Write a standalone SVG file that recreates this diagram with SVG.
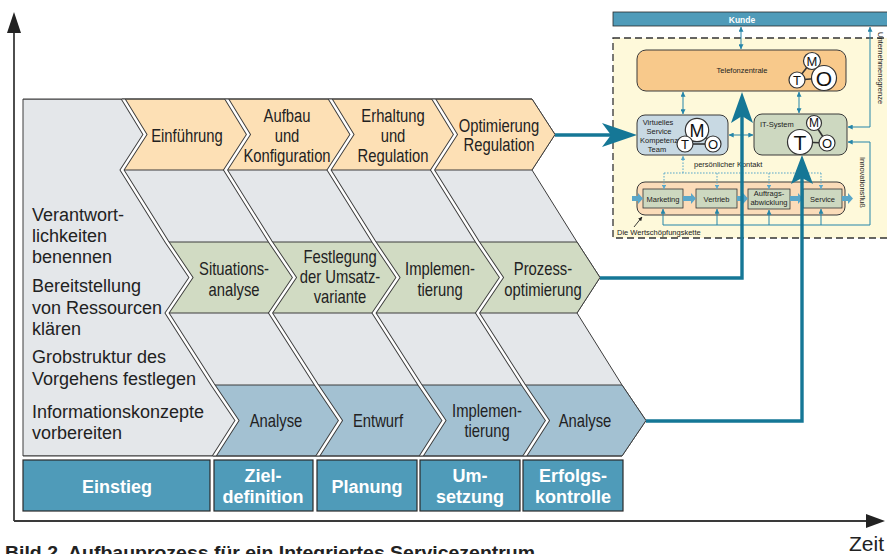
<svg xmlns="http://www.w3.org/2000/svg" width="887" height="554" viewBox="0 0 887 554">
<defs>
<style>
.bg{fill:#e4e7ea;stroke:#3c3c3c;stroke-width:1}
.rowA{fill:#fde0b5;stroke:#3c3c3c;stroke-width:1}
.rowB{fill:#d1dbc3;stroke:#3c3c3c;stroke-width:1}
.rowC{fill:#a3c1d2;stroke:#3c3c3c;stroke-width:1}
.sepO{fill:none;stroke:#3c3c3c;stroke-width:4.4}
.sepI{fill:none;stroke:#fff;stroke-width:2.5}
.lbl text{font-family:"Liberation Sans",Arial,sans-serif;font-size:18.5px;fill:#222;text-anchor:middle}
.side{font-family:"Liberation Sans",Arial,sans-serif;font-size:18px;fill:#222}
.phase rect{fill:#4f9bb9;stroke:#2a2a2a;stroke-width:1.2}
.phase text{font-family:"Liberation Sans",Arial,sans-serif;font-weight:bold;font-size:18px;fill:#fff;text-anchor:middle}
.axis{stroke:#3a3a3a;stroke-width:1.8;fill:none}
.flow{stroke:#157796;stroke-width:3.4;fill:none}
.flowhead{fill:#157796}
.thin{stroke:#2585a9;stroke-width:1;fill:none}
.dot{stroke:#5aa7c9;stroke-width:1;stroke-dasharray:1.6 1.4;fill:none}
.small{font-family:"Liberation Sans",Arial,sans-serif;font-size:7.5px;fill:#222}
.box{stroke:#3a3a3a;stroke-width:1}
.inner{fill:#cdd8c0;stroke:#333;stroke-width:0.8}
.blk{fill:#5aa7c9}
.mto circle{fill:#fff;stroke:#333;stroke-width:1.2}
.mto line{stroke:#333;stroke-width:1.6}
.mto text{font-family:"Liberation Sans",Arial,sans-serif;text-anchor:middle;fill:#111}
</style>
<marker id="ah" viewBox="0 0 8 8" refX="7.5" refY="4" markerWidth="5" markerHeight="5" orient="auto-start-reverse" markerUnits="userSpaceOnUse"><path d="M0,0 L8,4 L0,8 Z" fill="#2585a9"/></marker>
<marker id="ahd" viewBox="0 0 8 8" refX="7.5" refY="4" markerWidth="4.5" markerHeight="4.5" orient="auto-start-reverse" markerUnits="userSpaceOnUse"><path d="M0,0 L8,4 L0,8 Z" fill="#5aa7c9"/></marker>
<marker id="ahk" viewBox="0 0 8 8" refX="7.5" refY="4" markerWidth="4" markerHeight="4" orient="auto" markerUnits="userSpaceOnUse"><path d="M0,0 L8,4 L0,8 Z" fill="#222"/></marker>
<clipPath id="band"><rect x="0" y="99" width="887" height="357"/></clipPath>
</defs>

<rect width="887" height="554" fill="#fff"/>

<!-- axes -->
<g id="axes">
  <path class="axis" d="M14,521 V30"/>
  <polygon points="7,33 14,12 21,33" fill="#222"/>
  <path class="axis" d="M14,521 H868"/>
  <polygon points="866,514 885,521 866,528" fill="#222"/>
  <text x="849" y="551" font-family="'Liberation Sans',Arial,sans-serif" font-size="21" fill="#222">Zeit</text>
</g>

<!-- background field and the three chevron rows -->
<g id="field">
  <polygon class="bg" points="23,99 532,99 555,134.5 532,170 577,242 600,277.5 577,313 622,385 646,420.5 622,456 23,456"/>
  <polygon class="rowA" points="122,99 532,99 555,134.5 532,170 122,170 145,134.5"/>
  <polygon class="rowB" points="167,242 577,242 600,277.5 577,313 167,313 191,277.5"/>
  <polygon class="rowC" points="213,385 622,385 646,420.5 622,456 213,456 237,420.5"/>
</g>

<!-- column separators (white double line) -->
<g id="separators" clip-path="url(#band)">
  <g class="sepO">
    <polyline points="122,97 145,134.5 122,170 167,242 191,277.5 167,313 213,385 237,420.5 213,458"/>
    <polyline points="225.5,97 248.5,134.5 225.5,170 270.5,242 294.5,277.5 270.5,313 316.5,385 340.5,420.5 316.5,458"/>
    <polyline points="329,97 352,134.5 329,170 374,242 398,277.5 374,313 420,385 444,420.5 420,458"/>
    <polyline points="432.5,97 455.5,134.5 432.5,170 477.5,242 501.5,277.5 477.5,313 523.5,385 547.5,420.5 523.5,458"/>
  </g>
  <g class="sepI">
    <polyline points="122,97 145,134.5 122,170 167,242 191,277.5 167,313 213,385 237,420.5 213,458"/>
    <polyline points="225.5,97 248.5,134.5 225.5,170 270.5,242 294.5,277.5 270.5,313 316.5,385 340.5,420.5 316.5,458"/>
    <polyline points="329,97 352,134.5 329,170 374,242 398,277.5 374,313 420,385 444,420.5 420,458"/>
    <polyline points="432.5,97 455.5,134.5 432.5,170 477.5,242 501.5,277.5 477.5,313 523.5,385 547.5,420.5 523.5,458"/>
  </g>
  <path d="M23,99 H532 M23,456 H622" stroke="#3c3c3c" stroke-width="1" fill="none"/>
</g>

<!-- left column texts -->
<g id="tasks" class="side">
  <text x="32" y="221">Verantwort-</text>
  <text x="32" y="242">lichkeiten</text>
  <text x="32" y="263">benennen</text>
  <text x="32" y="292">Bereitstellung</text>
  <text x="32" y="314">von Ressourcen</text>
  <text x="32" y="335">klären</text>
  <text x="32" y="363">Grobstruktur des</text>
  <text x="32" y="385">Vorgehens festlegen</text>
  <text x="32" y="418">Informationskonzepte</text>
  <text x="32" y="439">vorbereiten</text>
</g>

<!-- chevron labels -->
<g id="rowA-labels">
  <g class="lbl" transform="translate(187 0) scale(0.8 1)"><text y="142">Einführung</text></g>
  <g class="lbl" transform="translate(287 0) scale(0.8 1)"><text y="122">Aufbau</text><text y="142">und</text><text y="162">Konfiguration</text></g>
  <g class="lbl" transform="translate(393 0) scale(0.8 1)"><text y="122">Erhaltung</text><text y="142">und</text><text y="162">Regulation</text></g>
  <g class="lbl" transform="translate(499 0) scale(0.8 1)"><text y="132">Optimierung</text><text y="151">Regulation</text></g>
</g>
<g id="rowB-labels">
  <g class="lbl" transform="translate(234 0) scale(0.8 1)"><text y="275">Situations-</text><text y="296">analyse</text></g>
  <g class="lbl" transform="translate(340 0) scale(0.8 1)"><text y="263">Festlegung</text><text y="283">der Umsatz-</text><text y="303">variante</text></g>
  <g class="lbl" transform="translate(440 0) scale(0.8 1)"><text y="275">Implemen-</text><text y="296">tierung</text></g>
  <g class="lbl" transform="translate(543 0) scale(0.8 1)"><text y="275">Prozess-</text><text y="296">optimierung</text></g>
</g>
<g id="rowC-labels">
  <g class="lbl" transform="translate(276 0) scale(0.8 1)"><text y="427">Analyse</text></g>
  <g class="lbl" transform="translate(378 0) scale(0.8 1)"><text y="427">Entwurf</text></g>
  <g class="lbl" transform="translate(487 0) scale(0.8 1)"><text y="417">Implemen-</text><text y="437">tierung</text></g>
  <g class="lbl" transform="translate(585 0) scale(0.8 1)"><text y="427">Analyse</text></g>
</g>

<!-- phase boxes -->
<g id="phases" class="phase">
  <g id="ph-einstieg"><rect x="23" y="460" width="187" height="51"/><text x="117" y="493">Einstieg</text></g>
  <g id="ph-ziel"><rect x="214" y="460" width="99" height="51"/><text x="263" y="482">Ziel-</text><text x="263" y="503">definition</text></g>
  <g id="ph-planung"><rect x="317" y="460" width="100" height="51"/><text x="367" y="493">Planung</text></g>
  <g id="ph-umsetzung"><rect x="420" y="460" width="100" height="51"/><text x="470" y="482">Um-</text><text x="470" y="503">setzung</text></g>
  <g id="ph-erfolg"><rect x="523" y="460" width="100" height="51"/><text x="573" y="482">Erfolgs-</text><text x="573" y="503">kontrolle</text></g>
</g>

<!-- service centre model -->
<g id="kunde">
  <rect x="613" y="12" width="280" height="14" fill="#4f9bb9" stroke="#2a2a2a" stroke-width="0.8"/>
  <text x="742" y="22.5" font-family="'Liberation Sans',Arial,sans-serif" font-weight="bold" font-size="8.5" fill="#fff" text-anchor="middle">Kunde</text>
</g>
<g id="unternehmen">
  <rect x="613" y="38" width="290" height="200" fill="#fef9da" stroke="#333" stroke-width="1.3" stroke-dasharray="7 4"/>
  <text class="small" transform="translate(878 32) rotate(90)">Unternehmensgrenze</text>
  <text class="small" transform="translate(860 157) rotate(90)">Innovationsfluß</text>
  <text class="small" x="617" y="235">Die Wertschöpfungskette</text>
</g>

<g id="telefonzentrale">
  <rect class="box" x="637" y="50" width="209" height="41" rx="9" fill="#f8c98b"/>
  <text class="small" x="742" y="73" text-anchor="middle">Telefonzentrale</text>
  <g class="mto">
    <line x1="797" y1="80" x2="812" y2="61"/><line x1="797" y1="80" x2="824" y2="78"/>
    <circle cx="812" cy="61" r="8.5"/><circle cx="797" cy="80" r="8"/><circle cx="824" cy="78" r="12.5"/>
    <text x="812" y="65.7" font-size="13">M</text><text x="797" y="84.7" font-size="13">T</text><text x="824" y="85.5" font-size="21">O</text>
  </g>
</g>

<g id="vskt">
  <rect class="box" x="637" y="115" width="91" height="40" rx="8" fill="#c8d9e3"/>
  <g class="small" text-anchor="middle" font-size="7">
    <text x="658" y="125">Virtuelles</text><text x="659" y="134">Service</text><text x="659" y="143">Kompetenz</text><text x="657" y="152">Team</text>
  </g>
  <g class="mto">
    <line x1="685" y1="144" x2="713" y2="144"/><line x1="697" y1="130" x2="713" y2="144"/>
    <circle cx="697" cy="130" r="11.7"/><circle cx="685" cy="144" r="8"/><circle cx="713" cy="144" r="8"/>
    <text x="697" y="136.5" font-size="18">M</text><text x="685" y="148.7" font-size="13">T</text><text x="713" y="148.7" font-size="13">O</text>
  </g>
</g>

<g id="itsystem">
  <rect class="box" x="754" y="114" width="93" height="41" rx="8" fill="#cdd8c0"/>
  <text class="small" x="760" y="127" font-size="7.8">IT-System</text>
  <g class="mto">
    <line x1="814" y1="123" x2="827" y2="143"/><line x1="800" y1="142" x2="827" y2="143"/>
    <circle cx="814" cy="123" r="7.5"/><circle cx="800" cy="142" r="12.5"/><circle cx="827" cy="143" r="8"/>
    <text x="814" y="127.3" font-size="12">M</text><text x="800" y="149.5" font-size="21">T</text><text x="827" y="147.7" font-size="13">O</text>
  </g>
</g>

<g id="wertschoepfung">
  <rect class="box" x="637" y="182" width="208" height="33" rx="8" fill="#fbdcb9"/>
  <g id="marketing"><rect class="inner" x="643" y="189" width="40" height="19"/><text class="small" x="663" y="201.5" text-anchor="middle">Marketing</text></g>
  <g id="vertrieb"><rect class="inner" x="696" y="189" width="41" height="19"/><text class="small" x="716.5" y="201.5" text-anchor="middle">Vertrieb</text></g>
  <g id="auftrag"><rect class="inner" x="748" y="189" width="42" height="20"/><text class="small" x="769" y="196" text-anchor="middle" font-size="7">Auftrags-</text><text class="small" x="769" y="205" text-anchor="middle" font-size="7">abwicklung</text></g>
  <g id="service"><rect class="inner" x="803" y="189" width="39" height="19"/><text class="small" x="822.5" y="201.5" text-anchor="middle">Service</text></g>
  <g class="blk">
    <path d="M632,196 H638 V193 L643,198.5 L638,204 V201 H632 Z"/>
    <path d="M683,196 H691 V193 L696,198.5 L691,204 V201 H683 Z"/>
    <path d="M737,196 H743 V193 L748,198.5 L743,204 V201 H737 Z"/>
    <path d="M790,196 H798 V193 L803,198.5 L798,204 V201 H790 Z"/>
    <path d="M842,196 H848 V193 L853,198.5 L848,204 V201 H842 Z"/>
  </g>
</g>

<!-- connectors -->
<g id="connectors">
  <g class="thin">
    <path d="M741,27 V49" marker-start="url(#ah)" marker-end="url(#ah)"/>
    <path d="M683,92 V114" marker-start="url(#ah)" marker-end="url(#ah)"/>
    <path d="M799,92 V113" marker-start="url(#ah)" marker-end="url(#ah)"/>
    <path d="M729,135 H753" marker-start="url(#ah)" marker-end="url(#ah)"/>
    <path d="M848,127 H870 V27" marker-start="url(#ah)" marker-end="url(#ah)"/>
    <path d="M663,225 H870 V142 H848" marker-end="url(#ah)"/>
    <path d="M663,225 V209" marker-end="url(#ah)"/>
    <path d="M717,225 V209" marker-end="url(#ah)"/>
    <path d="M769,225 V210" marker-end="url(#ah)"/>
    <path d="M821,225 V209" marker-end="url(#ah)"/>
  </g>
  <g class="dot">
    <path d="M683,173 V156" marker-end="url(#ahd)"/>
    <path d="M664,173 H821"/>
    <path d="M664,173 V189" marker-end="url(#ahd)"/>
    <path d="M717,173 V189" marker-end="url(#ahd)"/>
    <path d="M769,173 V189" marker-end="url(#ahd)"/>
    <path d="M821,173 V189" marker-end="url(#ahd)"/>
  </g>
  <text class="small" x="694" y="167" font-size="7.8">persönlicher Kontakt</text>
  <path d="M634,227 L642,217" stroke="#222" stroke-width="0.9" fill="none" marker-end="url(#ahk)"/>

  <g id="flows">
    <path class="flow" d="M555,135 H612"/>
    <polygon class="flowhead" points="602,123 637,135 602,147 611,135"/>
    <path class="flow" d="M600,278 H742 V116"/>
    <polygon class="flowhead" points="731,123 742,92 753,123 742,116"/>
    <path class="flow" d="M646,421 H802 V178"/>
    <polygon class="flowhead" points="791,184 802,155 813,184 802,178"/>
  </g>
</g>

<text x="5" y="559" font-family="'Liberation Sans',Arial,sans-serif" font-weight="bold" font-size="19" fill="#222" textLength="530" lengthAdjust="spacingAndGlyphs" xml:space="preserve">Bild 2  Aufbauprozess für ein Integriertes Servicezentrum</text>
</svg>
